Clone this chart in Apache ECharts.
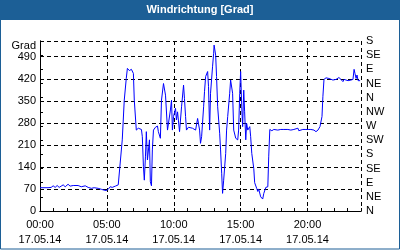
<!DOCTYPE html>
<html><head><meta charset="utf-8">
<script src="https://cdn.jsdelivr.net/npm/echarts@6/dist/echarts.min.js"></script>
<style>html,body{margin:0;padding:0;background:#fff}#c{width:400px;height:250px}</style>
</head><body><div id="c"></div>
<script>
const titleText = 'Windrichtung [Grad]';
const dateLabel = '17.05.14';
const leftAxisName = 'Grad';
const compassLabels = ['N','NE','E','SE','S','SW','W','NW','N','NE','E','SE','S'];
const timeMinutes = [0,18,36,50,59,68,77,86,95,104,113,126,135,149,171,185,203,216,230,243,261,275,284,288,297,306,315,324,338,351,356,
369,378,387,392,401,410,419,423,432,437,441,455,459,464,468,473,477,482,491,495,500,504,509,518,527,531,540,
545,554,558,563,572,576,585,590,594,599,608,612,617,626,630,635,644,648,653,657,666,684,698,707,716,720,725,734,738,743,752,756,761,
765,774,779,781,788,792,797,806,810,815,819,824,833,837,842,851,855,860,864,869,878,887,891,896,900,905,909,914,918,923,927,932,
941,945,950,959,963,972,977,981,990,999,1004,1013,1022,1026,1031,1040,1049,1067,1080,1094,1112,1125,1139,1157,1161,1179,1193,1206,
1215,1229,1238,1247,1256,1265,1269,1274,1283,1296,1314,1328,1341,1350,1359,1364,1382,1395,1404,1409,1413,1418,1422,1427,1436];
const directionDeg = [74,74,74,75,80,75,81,75,79,83,77,85,79,81,81,77,80,75,72,74,72,69,67,72,65,69,77,75,79,83,80,
226,352,421,453,446,450,437,352,257,252,263,259,236,141,98,172,252,162,226,93,80,194,257,266,270,252,231,
352,405,411,368,257,252,321,352,257,300,326,289,315,252,257,331,400,358,300,257,266,263,257,294,257,215,236,331,379,427,443,395,257,
374,458,501,527,495,427,331,247,194,120,56,98,183,257,300,374,416,411,374,257,231,226,257,374,443,331,268,384,315,226,278,257,
268,236,183,135,90,72,62,70,45,38,56,75,77,172,259,255,259,257,259,259,259,257,259,263,255,259,259,259,
259,257,252,257,268,300,363,418,423,421,416,418,424,418,411,418,414,416,418,450,437,421,432,414,414];

const font = '"Liberation Sans", Arial, sans-serif';
const blue = '#1c5f96';
function hhmm(m){const h=Math.floor(m/60),mm=m%60;return String(h).padStart(2,'0')+':'+String(mm).padStart(2,'0');}
const chart = echarts.init(document.getElementById('c'), null, {renderer:'canvas'});
const labelStyle = {color:'#000',fontSize:11,fontFamily:font};
chart.setOption({
  animation:false,
  backgroundColor:'#fff',
  title:{text:titleText,left:'center',top:4,padding:0,z:10,
    textStyle:{color:'#fff',fontWeight:'bold',fontSize:11,fontFamily:font}},
  graphic:[
    {type:'rect',z:1,shape:{x:0,y:0,width:400,height:20},style:{fill:blue}},
    {type:'rect',z:1,shape:{x:0.5,y:0.5,width:399,height:248.5},style:{fill:null,stroke:blue,lineWidth:1}}
  ],
  grid:{left:40,right:39,top:41,bottom:39},
  xAxis:[
    {type:'value',position:'bottom',min:0,max:1440,interval:60,
      axisLine:{show:true,lineStyle:{color:'#000',width:1}},
      axisTick:{show:true,inside:true,length:3,lineStyle:{color:'#000'}},
      axisLabel:Object.assign({margin:6,lineHeight:15,
        formatter:v=>(v%300===0&&v<1440)?hhmm(v)+'\n'+dateLabel:''},labelStyle),
      splitLine:{show:false}},
    {type:'value',position:'top',min:0,max:1440,interval:300,
      axisLine:{show:true,lineStyle:{color:'#000',width:1}},
      axisTick:{show:false},axisLabel:{show:false},
      splitLine:{show:true,lineStyle:{color:'#000',width:1,type:[4,3]}}}
  ],
  yAxis:[
    {type:'value',position:'left',min:0,max:540,interval:70,
      name:leftAxisName,nameLocation:'end',nameGap:-6,
      nameTextStyle:Object.assign({align:'right',verticalAlign:'middle',padding:[0,4,0,0]},labelStyle),
      axisLine:{show:true,lineStyle:{color:'#000',width:1}},
      axisTick:{show:false},
      axisLabel:Object.assign({margin:4,showMaxLabel:false},labelStyle),
      splitLine:{show:true,lineStyle:{color:'#000',width:1,type:[4,3]}}},
    {type:'value',position:'right',min:0,max:540,interval:45,
      axisLine:{show:true,lineStyle:{color:'#000',width:1}},
      axisTick:{show:true,inside:false,length:3,lineStyle:{color:'#000'}},
      axisLabel:Object.assign({margin:5,formatter:v=>compassLabels[Math.round(v/45)]},labelStyle),
      splitLine:{show:false}}
  ],
  series:[{type:'line',xAxisIndex:0,yAxisIndex:0,
    data:timeMinutes.map((t,i)=>[t,directionDeg[i]]),
    showSymbol:false,symbol:'none',smooth:false,z:5,
    lineStyle:{color:'#0000ff',width:1},itemStyle:{color:'#0000ff'}}]
});
</script></body></html>
